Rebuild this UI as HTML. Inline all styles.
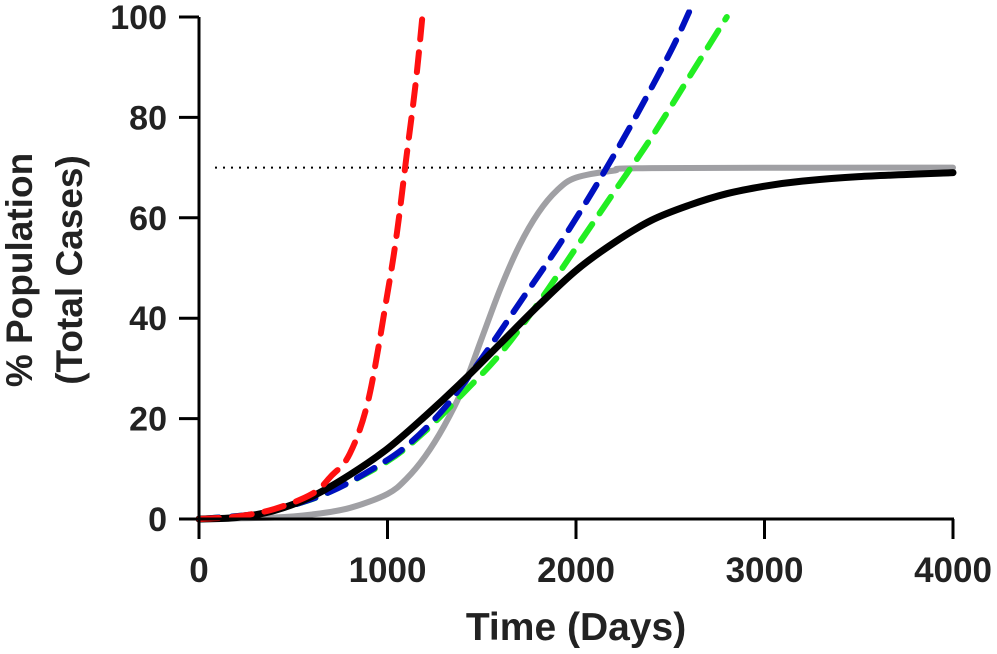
<!DOCTYPE html>
<html><head><meta charset="utf-8"><style>
html,body{margin:0;padding:0;background:#fff;}
svg{display:block;font-family:"Liberation Sans",Arial,sans-serif;font-weight:bold;}
</style></head><body>
<svg id="chart" width="997" height="654" viewBox="0 0 997 654">
<g id="plot"></g>
</svg>
<script>
const xTicks=[0,1000,2000,3000,4000];
const yTicks=[0,20,40,60,80,100];
const redData=[[0,0],[200,0.5],[400,2],[600,5],[700,8.5],[800,13],[900,24],[1000,45],[1050,57],[1100,72],[1150,87],[1190,102]];
const blueData=[[0,0],[300,1],[500,2.8],[700,5.5],[900,9.5],[1100,14.5],[1300,22],[1500,32],[1700,43],[1900,54],[2100,66],[2300,79],[2500,93],[2600,101]];
const greenData=[[0,0],[300,1],[500,2.8],[700,5.5],[1000,11.5],[1200,17.5],[1400,25],[1600,33],[1800,43],[2000,54],[2200,65],[2400,76],[2600,88],[2800,100]];
const blackData=[[0,0],[200,0.3],[400,1.7],[600,4.5],[800,8.8],[1000,14],[1200,20.5],[1400,27.5],[1600,35],[1800,42.5],[2000,49.5],[2200,55],[2400,59.5],[2600,62.5],[2800,64.8],[3000,66.3],[3200,67.3],[3500,68.2],[4000,69]];
const grayData=[[0,0],[400,0.3],[600,0.9],[800,2.2],[1000,5],[1100,8],[1200,12.5],[1300,18.5],[1400,26],[1500,36],[1600,46],[1700,54.5],[1800,61],[1900,65.5],[2000,68],[2200,69.4],[2400,69.9],[4000,70]];
const thresholdValue=70;

const X0=199,X1=953,Y0=519,Y1=17;
const xs=v=>X0+(v/4000)*(X1-X0);
const ys=v=>Y0-(v/100)*(Y0-Y1);
const NS="http://www.w3.org/2000/svg";
const g=document.getElementById('plot');
function mk(t,a){const e=document.createElementNS(NS,t);for(const k in a)e.setAttribute(k,a[k]);g.appendChild(e);return e;}

const clip=document.createElementNS(NS,'clipPath');clip.setAttribute('id','cp');
const cr=document.createElementNS(NS,'rect');cr.setAttribute('x',X0-5);cr.setAttribute('y',ys(101.5));cr.setAttribute('width',X1-X0+10);cr.setAttribute('height',Y0-ys(101.5)+5);
clip.appendChild(cr);document.getElementById('chart').appendChild(clip);

function smooth(d){
  const p=d.map(q=>[xs(q[0]),ys(q[1])]);
  let s='M'+p[0][0]+','+p[0][1];
  for(let i=0;i<p.length-1;i++){
    const a=p[Math.max(0,i-1)],b=p[i],c=p[i+1],e=p[Math.min(p.length-1,i+2)];
    const c1=[b[0]+(c[0]-a[0])/6,b[1]+(c[1]-a[1])/6],c2=[c[0]-(e[0]-b[0])/6,c[1]-(e[1]-b[1])/6];
    s+=' C'+c1+' '+c2+' '+c;
  }
  return s;
}

let th=mk('line',{x1:215,x2:X1,y1:ys(thresholdValue),y2:ys(thresholdValue),stroke:'#000','stroke-width':2,'stroke-dasharray':'2 6'});



const series=[
 {d:grayData,c:'#a0a0a4',w:6,da:null,n:'gray-series'},
 {d:greenData,c:'#22ee22',w:6,da:'20 13',n:'green-series'},
 {d:blueData,c:'#0010c0',w:6,da:'20 13',n:'blue-series'},
 {d:blackData,c:'#000',w:7,da:null,n:'black-series'},
 {d:redData,c:'#ff1010',w:6,da:'20 13',n:'red-series'}
];
series.forEach(s=>{
  const a={d:smooth(s.d),fill:'none',stroke:s.c,'stroke-width':s.w,'stroke-linecap':'round','clip-path':'url(#cp)'};
  if(s.da)a['stroke-dasharray']=s.da;
  const e=mk('path',a);
  
  
});

let ax=mk('line',{x1:X0,x2:X0,y1:Y1,y2:Y0+1.5,stroke:'#000','stroke-width':3});


let ax2=mk('line',{x1:X0-1.5,x2:X1+1,y1:Y0,y2:Y0,stroke:'#000','stroke-width':3});



xTicks.forEach(v=>{
  const x=xs(v);
  mk('line',{x1:x,x2:x,y1:Y0,y2:Y0+20,stroke:'#000','stroke-width':3});
  const t=mk('text',{x:x,y:582,'text-anchor':'middle','font-size':35,fill:'#222'});
  t.textContent=v;
  
  
});
yTicks.forEach(v=>{
  const y=ys(v);
  mk('line',{x1:X0-20,x2:X0,y1:y,y2:y,stroke:'#000','stroke-width':3});
  const t=mk('text',{x:167,y:y+12,'text-anchor':'end','font-size':34,fill:'#222'});
  t.textContent=v;
  
  
});
let xt=mk('text',{x:576,y:640,'text-anchor':'middle','font-size':39,fill:'#222'});
xt.textContent='Time (Days)';


let yt=mk('text',{transform:'translate(32,270) rotate(-90)','text-anchor':'middle','font-size':37,fill:'#222'});
yt.textContent='% Population';


let yt2=mk('text',{transform:'translate(82,270) rotate(-90)','text-anchor':'middle','font-size':37,fill:'#222'});
yt2.textContent='(Total Cases)';


</script>
</body></html>
